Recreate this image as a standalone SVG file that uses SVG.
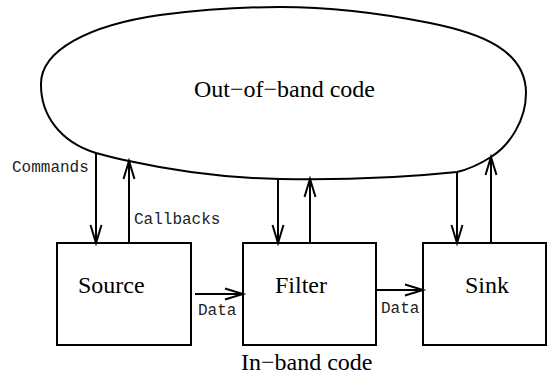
<svg xmlns="http://www.w3.org/2000/svg" width="548" height="378" viewBox="0 0 548 378">
<defs>
<style>
.shape{fill:none;stroke:#000;stroke-width:2}
.conn{fill:none;stroke:#000;stroke-width:2}
.big{font-family:"Liberation Serif","Times New Roman",serif;font-size:24px;fill:#000}
.mono{font-family:"Liberation Mono","Courier New",monospace;font-size:16px;fill:#222}
</style>
<marker id="arr" markerUnits="userSpaceOnUse" markerWidth="24" markerHeight="14" viewBox="-20 -7 24 14" refX="0" refY="0" orient="auto">
<path d="M-18,-5.5 L0,0 L-18,5.5" fill="none" stroke="#000" stroke-width="2"/>
</marker>
</defs>
<rect width="548" height="378" fill="#fff"/>
<g id="outofband">
<path class="shape" d="M41,85 C40,50 90,25 160,15 C200,10 240,7 280,7 C330,7 380,13 430,23 C480,33 526,50 526,93 C526,120 510,145 491,157 C480,164 470,169 457,172 C400,178 330,180 280,179 C220,178 170,170 129,161 C118,159 107,156 96,153 C60,142 41,115 41,85 Z"/>
<text class="big" x="194" y="97">Out−of−band code</text>
</g>
<g id="source">
<rect class="shape" x="57" y="243" width="134" height="102"/>
<text class="big" x="78" y="293">Source</text>
</g>
<g id="filter">
<rect class="shape" x="243" y="243" width="133" height="102"/>
<text class="big" x="275" y="293">Filter</text>
</g>
<g id="sink">
<rect class="shape" x="423" y="243" width="123" height="102"/>
<text class="big" x="465" y="293">Sink</text>
</g>
<g id="inband">
<text class="big" x="241" y="370">In−band code</text>
</g>
<g id="connectors">
<line class="conn" x1="96" y1="153" x2="96" y2="243" marker-end="url(#arr)"/>
<line class="conn" x1="129" y1="243" x2="129" y2="161" marker-end="url(#arr)"/>
<line class="conn" x1="278" y1="179" x2="278" y2="243" marker-end="url(#arr)"/>
<line class="conn" x1="310" y1="243" x2="310" y2="179" marker-end="url(#arr)"/>
<line class="conn" x1="457" y1="172" x2="457" y2="243" marker-end="url(#arr)"/>
<line class="conn" x1="491" y1="243" x2="491" y2="157" marker-end="url(#arr)"/>
<line class="conn" x1="195" y1="294" x2="243" y2="294" marker-end="url(#arr)"/>
<line class="conn" x1="377" y1="290" x2="423" y2="290" marker-end="url(#arr)"/>
<text class="mono" x="12" y="172">Commands</text>
<text class="mono" x="134" y="224">Callbacks</text>
<text class="mono" x="198" y="315">Data</text>
<text class="mono" x="381" y="313">Data</text>
</g>
</svg>
